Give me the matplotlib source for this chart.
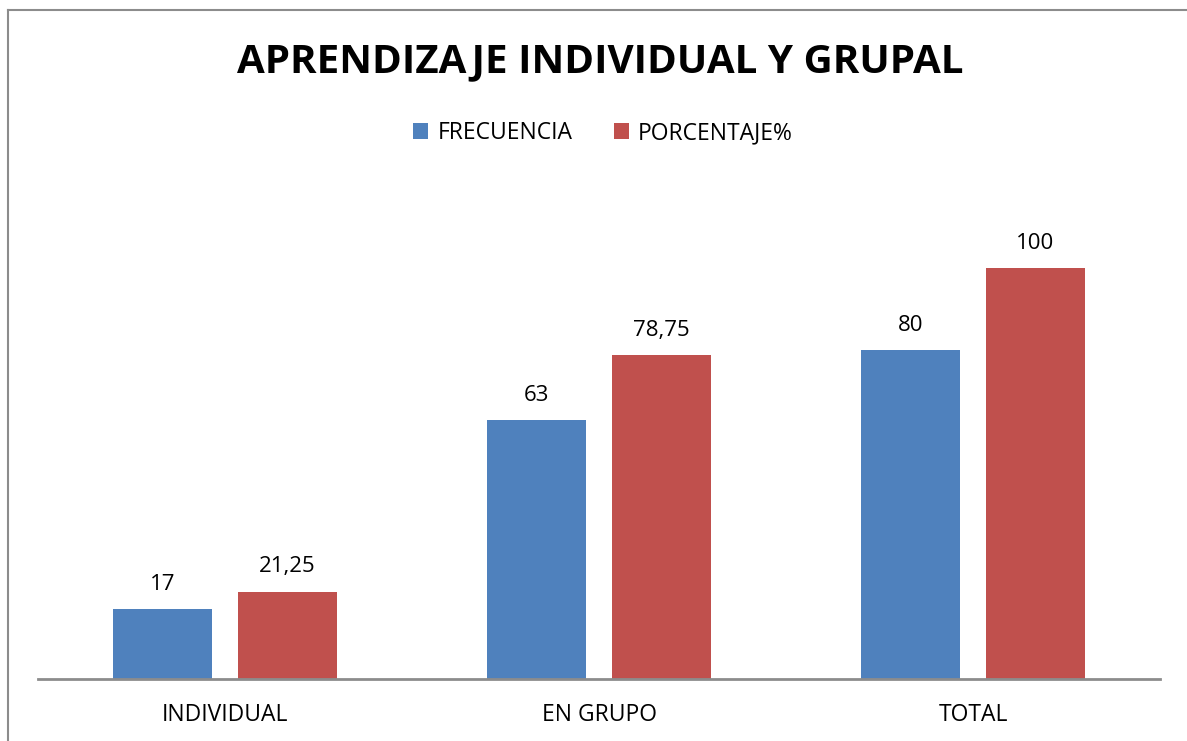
import matplotlib.pyplot as plt
import numpy as np
from matplotlib.lines import Line2D

categories = ["INDIVIDUAL", "EN GRUPO", "TOTAL"]
frecuencia = [17, 63, 80]
porcentaje = [21.25, 78.75, 100]
frec_labels = ["17", "63", "80"]
porc_labels = ["21,25", "78,75", "100"]

plt.rcParams['font.family'] = ['Open Sans', 'DejaVu Sans']

W, H = 1187, 741
fig = plt.figure(figsize=(W / 100, H / 100), dpi=100)

# chart frame (only top and left edges visible)
fig.add_artist(Line2D([8 / W, 8 / W], [0, 1 - 10 / H], transform=fig.transFigure,
                      color="#8c8c8c", lw=1.5))
fig.add_artist(Line2D([8 / W, 1], [1 - 10 / H, 1 - 10 / H], transform=fig.transFigure,
                      color="#8c8c8c", lw=1.5))

ymax = 110
base = 679
top = base - 4.11 * ymax
ax = fig.add_axes([38 / W, 1 - base / H, (1160 - 38) / W, (base - top) / H])

x = np.arange(len(categories))
w = 0.265
b1 = ax.bar(x - 0.167, frecuencia, w, color="#4F81BD", label="FRECUENCIA")
b2 = ax.bar(x + 0.167, porcentaje, w, color="#C0504D", label="PORCENTAJE%")

for bars, labs in ((b1, frec_labels), (b2, porc_labels)):
    for r, t in zip(bars, labs):
        ax.text(r.get_x() + r.get_width() / 2, r.get_height() + 3.5, t,
                ha="center", va="bottom", fontsize=16)

ax.set_xlim(-0.5, 2.5)
ax.set_ylim(0, ymax)
ax.set_xticks(x)
ax.set_xticklabels(categories, fontsize=16.5)
ax.tick_params(axis="x", length=0, pad=17)
ax.set_yticks([])
for s in ["top", "right", "left"]:
    ax.spines[s].set_visible(False)
ax.spines["bottom"].set_color("#8c8c8c")
ax.spines["bottom"].set_linewidth(2)

fig.text(600 / W, 1 - 62 / H, "APRENDIZAJE INDIVIDUAL Y GRUPAL", ha="center", va="center",
         fontsize=29, fontweight="bold")
fig.legend(handles=[b1, b2], loc="center", bbox_to_anchor=(603 / W, 1 - 133 / H), ncol=2,
           frameon=False, fontsize=16.5, handlelength=0.65, handleheight=0.65,
           handletextpad=0.4, columnspacing=1.8)

fig.savefig("out.png", dpi=100)
